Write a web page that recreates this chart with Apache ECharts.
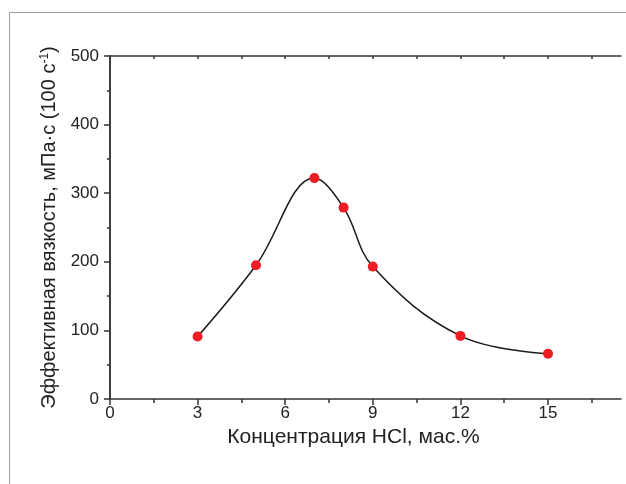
<!DOCTYPE html>
<html>
<head>
<meta charset="utf-8">
<script src="https://cdn.jsdelivr.net/npm/echarts@6/dist/echarts.min.js"></script>
<style>
    html, body { margin: 0; padding: 0; background: #fff; }
</style>
</head>
<body>
    <!-- chart container -->
    <div id="main" style="width: 626px;height:484px;"></div>
<script type="text/javascript">
    // data
    var hcl = [3, 5, 7, 8, 9, 12, 15];
    var viscosity = [91, 195, 322, 279, 193, 92, 66];
    var xMajor = [0, 3, 6, 9, 12, 15];
    var xMinor = [1.5, 4.5, 7.5, 10.5, 13.5, 16.5];

    var points = [];
    for (var i = 0; i < hcl.length; i++) {
        points.push([hcl[i], viscosity[i]]);
    }

    var myChart = echarts.init(document.getElementById('main'));
    var font = 'Liberation Sans, Arial, sans-serif';
    var axisColor = '#333';

    var option = {
        animation: false,
        backgroundColor: '#fff',
        graphic: [{
            type: 'rect',
            shape: { x: 9.5, y: 12.5, width: 700, height: 600 },
            style: { fill: 'none', stroke: '#9a9a9a', lineWidth: 1 },
            silent: true
        }],
        grid: { left: 110, right: 5, top: 56, bottom: 85 },
        xAxis: [{
            type: 'value',
            position: 'bottom',
            min: 0,
            max: 17.5,
            name: 'Концентрация HCl, мас.%',
            nameLocation: 'middle',
            nameGap: 28,
            nameTextStyle: { fontFamily: font, fontSize: 21, color: '#222', padding: [0, 24, 0, 0] },
            axisLine: { lineStyle: { color: axisColor, width: 1.5 } },
            axisTick: { customValues: xMajor, length: 6, lineStyle: { color: axisColor, width: 1.5 } },
            axisLabel: { customValues: xMajor, margin: 6, fontFamily: font, fontSize: 17, color: '#222' },
            splitLine: { show: false }
        }, {
            type: 'value',
            position: 'bottom',
            min: 0,
            max: 17.5,
            axisLine: { show: false },
            axisTick: { customValues: xMinor, length: 4, lineStyle: { color: axisColor, width: 1.5 } },
            axisLabel: { show: false },
            splitLine: { show: false }
        }, {
            type: 'value',
            position: 'top',
            min: 0,
            max: 17.5,
            axisLine: { lineStyle: { color: axisColor, width: 1.5 } },
            axisTick: { inside: true, customValues: xMajor.concat(xMinor), length: 3, lineStyle: { color: axisColor, width: 1.5 } },
            axisLabel: { show: false },
            splitLine: { show: false }
        }],
        yAxis: [{
            type: 'value',
            position: 'left',
            min: 0,
            max: 500,
            interval: 100,
            name: '{t|Эффективная вязкость, мПа·с (100 с}{s|-1}{t|)}',
            nameLocation: 'middle',
            nameGap: 49,
            nameTextStyle: {
                rich: {
                    t: { fontFamily: font, fontSize: 20, color: '#222' },
                    s: { fontFamily: font, fontSize: 12, color: '#222', verticalAlign: 'top', padding: [0, 0, 10, 0] }
                }
            },
            axisLine: { lineStyle: { color: axisColor, width: 1.5 } },
            axisTick: { length: 6, lineStyle: { color: axisColor, width: 1.5 } },
            minorTick: { show: true, splitNumber: 2, length: 3, lineStyle: { color: axisColor, width: 1.5 } },
            axisLabel: { margin: 11, fontFamily: font, fontSize: 17, color: '#222' },
            splitLine: { show: false },
            minorSplitLine: { show: false }
        }, {
            type: 'value',
            position: 'right',
            min: 0,
            max: 500,
            interval: 50,
            axisLine: { lineStyle: { color: axisColor, width: 1.5 } },
            axisTick: { inside: true, length: 3, lineStyle: { color: axisColor, width: 1.5 } },
            axisLabel: { show: false },
            splitLine: { show: false }
        }],
        series: [{
            name: 'viscosity',
            type: 'line',
            xAxisIndex: 0,
            yAxisIndex: 0,
            data: points,
            smooth: 0.38,
            symbol: 'circle',
            symbolSize: 10,
            lineStyle: { color: '#1a1a1a', width: 1.5 },
            itemStyle: { color: '#ee1c24' },
            z: 5
        }]
    };

    myChart.setOption(option);
</script>
</body>
</html>
